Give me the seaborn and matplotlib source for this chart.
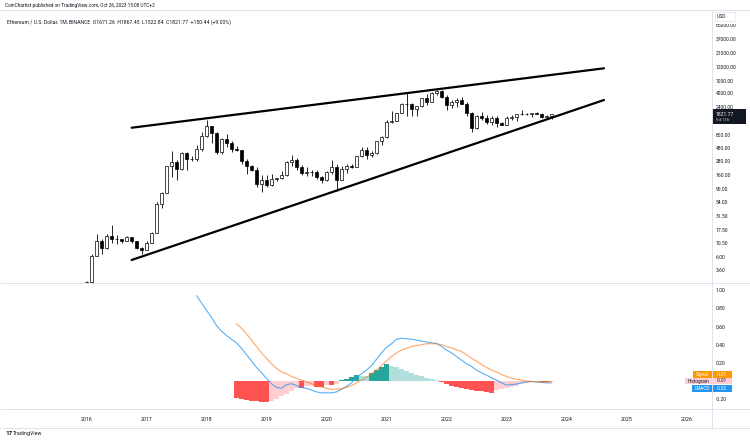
import numpy as np
import pandas as pd
import matplotlib
matplotlib.use("Agg")
import matplotlib.pyplot as plt
from matplotlib.patches import Rectangle
from matplotlib.ticker import NullLocator
import seaborn as sns

# ---------------- data ----------------
months = pd.period_range("2016-01", "2023-10", freq="M")

opens = [0.93, 2.19, 6.40, 11.4, 8.8, 14.0, 12.5, 12.6, 11.5, 13.2, 11.3, 8.6,
         8.0, 10.7, 15.8, 50, 79, 230, 274, 201, 386, 302, 306, 447,
         756, 1118, 856, 396, 670, 577, 455, 433, 283, 232, 197, 113,
         133, 107, 136, 141, 161, 268, 290, 218, 172, 180, 182, 151,
         130, 179, 217, 133, 206, 230, 225, 345, 434, 360, 386, 615,
         737, 1314, 1416, 1918, 2772, 2707, 2275, 2536, 3433, 3001, 4288, 4631,
         3682, 2688, 2919, 3282, 2727, 1942, 1067, 1678, 1553, 1328, 1572, 1295,
         1196, 1585, 1605, 1822, 1869, 1874, 1934, 1856, 1646, 1671.26]
highs = [2.30, 6.70, 15.1, 12.3, 15.0, 21.5, 14.8, 12.6, 14.2, 13.5, 11.6, 8.9,
         11.5, 16.5, 55, 80, 230, 420, 296, 400, 400, 350, 530, 880,
         1420, 1160, 880, 710, 835, 630, 515, 435, 300, 235, 225, 160,
         160, 165, 145, 185, 285, 362, 315, 238, 225, 200, 195, 153,
         185, 288, 253, 227, 247, 253, 349, 488, 490, 420, 623, 750,
         1475, 2040, 1945, 2800, 4380, 2890, 2550, 3470, 4030, 4460, 4868, 4780,
         3900, 3280, 3480, 3580, 2960, 1970, 1785, 2030, 1790, 1665, 1680, 1350,
         1680, 1745, 1860, 2140, 1930, 1930, 2030, 1880, 1750, 1867.45]
lows = [0.92, 2.10, 6.2, 6.9, 8.3, 10.5, 10.3, 10.4, 11.3, 10.5, 8.3, 6.8,
        7.9, 10.4, 15.6, 43, 78, 150, 130, 200, 200, 276, 286, 420,
        740, 570, 366, 366, 500, 410, 425, 250, 167, 190, 100, 81,
        100, 102, 127, 137, 157, 230, 193, 163, 152, 156, 135, 117,
        127, 170, 86, 130, 176, 214, 222, 335, 308, 335, 372, 535,
        715, 1270, 1410, 1900, 1730, 1700, 1720, 2450, 2650, 2970, 3930, 3500,
        2160, 2300, 2450, 2700, 1700, 880, 1000, 1420, 1220, 1190, 1075, 1165,
        1190, 1460, 1370, 1785, 1740, 1625, 1820, 1550, 1530, 1522.84]
closes = [2.19, 6.40, 11.4, 8.8, 14.0, 12.5, 12.6, 11.5, 13.2, 11.3, 8.6, 8.0,
          10.7, 15.8, 50, 79, 230, 274, 201, 386, 302, 306, 447, 756,
          1118, 856, 396, 670, 577, 455, 433, 283, 232, 197, 113, 133,
          107, 136, 141, 161, 268, 290, 218, 172, 180, 182, 151, 130,
          179, 217, 133, 206, 230, 225, 345, 434, 360, 386, 615, 737,
          1314, 1416, 1918, 2772, 2707, 2275, 2536, 3433, 3001, 4288, 4631, 3682,
          2688, 2919, 3282, 2727, 1942, 1067, 1678, 1553, 1328, 1572, 1295, 1196,
          1585, 1605, 1822, 1869, 1874, 1934, 1856, 1646, 1671, 1821.77]

# wedge trend lines (date, price)
wedge_dates = ["2016-10-02", "2024-08-16"]
wedge_upper = [1063, 11430]
wedge_lower = [5.37, 3218]

# MACD indicator (log-price MACD)
lmacd_months = pd.period_range("2017-11", "2023-10", freq="M")
lmacd = [0.94, 0.86, 0.78, 0.70, 0.61, 0.55, 0.50, 0.46,
         0.42, 0.36, 0.29, 0.22, 0.15, 0.09, 0.03,
         -0.03, -0.07, -0.08, -0.04, -0.03, -0.05, -0.07, -0.08, -0.10, -0.12,
         -0.13, -0.13, -0.13, -0.12, -0.09, -0.06,
         -0.02, 0.04, 0.08, 0.12, 0.17, 0.24, 0.31, 0.37, 0.41, 0.46, 0.47,
         0.465, 0.46, 0.45, 0.44, 0.43, 0.42, 0.415, 0.38, 0.34, 0.31, 0.27,
         0.23, 0.19, 0.16, 0.12, 0.09, 0.065, 0.035, 0.01, -0.02, -0.045,
         -0.04, -0.033, -0.02, -0.01, -0.005, -0.01, -0.015, -0.02, -0.02]
signal_months = pd.period_range("2018-07", "2023-10", freq="M")
signal = [0.63, 0.58, 0.52, 0.45, 0.38, 0.31, 0.25, 0.19, 0.14, 0.10,
          0.08, 0.05, 0.03, 0.01, -0.01, -0.03, -0.05, -0.065, -0.08, -0.09,
          -0.09, -0.085, -0.07, -0.05, -0.02, 0.01, 0.04, 0.08, 0.12, 0.17,
          0.22, 0.27, 0.31, 0.34, 0.36, 0.38, 0.39, 0.40, 0.41, 0.41,
          0.41, 0.40, 0.38, 0.365, 0.345, 0.325, 0.29, 0.25, 0.22, 0.18,
          0.15, 0.12, 0.10, 0.07, 0.05, 0.03, 0.02, 0.01, 0.00, -0.005,
          -0.01, -0.01, -0.01, -0.01]
hist = [-0.19, -0.20, -0.21, -0.22, -0.225, -0.23, -0.235,
        -0.215, -0.20, -0.17, -0.14, -0.11, -0.075,
        -0.08, -0.06, -0.05, -0.065, -0.07, -0.04, -0.045, -0.03,
        0.01, 0.02, 0.04, 0.07, 0.06, 0.05, 0.09, 0.12, 0.15, 0.19,
        0.17, 0.15, 0.13, 0.11, 0.09, 0.07, 0.05, 0.035, 0.02, 0.01,
        -0.01, -0.03, -0.05, -0.065, -0.08, -0.09, -0.10, -0.11, -0.115, -0.12, -0.13,
        -0.10, -0.09, -0.08, -0.065, -0.05, -0.035, -0.02, -0.01, -0.005, -0.008, -0.012, -0.01]

price_ticks = [3.6, 6, 10.5, 17.5, 31.5, 54, 90, 160, 280, 480, 800,
               2400, 4200, 7000, 12000, 21000, 37000, 65000]
macd_ticks = [1.0, 0.8, 0.6, 0.4, 0.2, 0.0, -0.2]
year_labels = [str(y) for y in range(2016, 2027)]

# ---------------- helpers ----------------
def midx(periods):
    return np.array([(p.year - 2016) * 12 + p.month - 1 for p in periods], dtype=float)

def date_idx(s):
    t = pd.Timestamp(s)
    return (t.year - 2016) * 12 + t.month - 1 + (t.day - 1) / 30.0

candles = pd.DataFrame({"m": midx(months), "o": opens, "h": highs, "l": lows, "c": closes})
mac = pd.DataFrame({"m": midx(lmacd_months), "v": lmacd})
sig = pd.DataFrame({"m": midx(signal_months), "s": signal, "h": hist})
wedge = pd.DataFrame({"m": [date_idx(d) for d in wedge_dates],
                      "up": wedge_upper, "lo": wedge_lower})

# ---------------- figure ----------------
sns.set_theme(style="white")
plt.rcParams["font.family"] = ["Roboto", "DejaVu Sans"]
TXT = "#131722"
SEP = "#E0E3EB"

W, H = 750, 440
fig = plt.figure(figsize=(7.5, 4.4), dpi=100)
fig.patch.set_facecolor("white")

def fy(py):
    return 1 - py / H

PR = 712
ax_p = fig.add_axes([0, fy(283), PR / W, (283 - 11) / H])
ax_m = fig.add_axes([0, fy(409), PR / W, (409 - 284) / H], sharex=ax_p)
XL = (-17.3, 125.1)

# candles
up = candles["c"] >= candles["o"]
ax_p.vlines(candles["m"], candles["l"], candles["h"], color="black", lw=0.6, zorder=2)
ax_p.bar(candles["m"], (candles["c"] - candles["o"]).abs(),
         bottom=np.minimum(candles["o"], candles["c"]), width=0.62,
         color=np.where(up, "white", "black"), edgecolor="black", linewidth=0.5, zorder=3)

# wedge lines
sns.lineplot(data=wedge, x="m", y="up", color="black", lw=1.6, ax=ax_p, zorder=4)
sns.lineplot(data=wedge, x="m", y="lo", color="black", lw=1.6, ax=ax_p, zorder=4)

ax_p.set_yscale("log")
ax_p.set_ylim(2.14, 113000)
ax_p.set_xlim(*XL)
ax_p.yaxis.tick_right()
ax_p.set_yticks(price_ticks)
ax_p.set_yticklabels([f"{t:.2f}" for t in price_ticks])
ax_p.yaxis.set_minor_locator(NullLocator())
ax_p.tick_params(axis="y", length=0, pad=2.9, labelsize=3.6, colors=TXT)
ax_p.tick_params(axis="x", which="both", length=0, labelbottom=False)
ax_p.set_xlabel("")
ax_p.set_ylabel("")
for s in ax_p.spines.values():
    s.set_visible(False)

# MACD pane
prev = None
cols = []
for v in sig["h"]:
    if v >= 0:
        c = "#26A69A" if (prev is None or v > prev) else "#B2DFDB"
    else:
        c = "#FF5252" if (prev is None or v < prev) else "#FFCDD2"
    cols.append(c)
    prev = v
ax_m.bar(sig["m"], sig["h"], width=0.82, color=cols, linewidth=0, zorder=2)
sns.lineplot(data=mac, x="m", y="v", color="#2196F3", lw=0.8, alpha=0.75, ax=ax_m, zorder=3)
sns.lineplot(data=sig, x="m", y="s", color="#FF6D00", lw=0.8, alpha=0.6, ax=ax_m, zorder=3)
ax_m.set_ylim(-0.308, 1.068)
ax_m.set_xlim(*XL)
ax_m.yaxis.tick_right()
ax_m.set_yticks(macd_ticks)
ax_m.set_yticklabels([f"{t:.2f}" for t in macd_ticks])
ax_m.tick_params(axis="y", length=0, pad=2.9, labelsize=3.6, colors=TXT)
ax_m.set_xticks(np.arange(0, 12 * len(year_labels), 12))
ax_m.set_xticklabels(year_labels)
ax_m.tick_params(axis="x", length=0, pad=6.0, labelsize=3.8, colors=TXT)
ax_m.set_xlabel("")
ax_m.set_ylabel("")
for s in ax_m.spines.values():
    s.set_visible(False)

# ---------------- overlay: separators, labels ----------------
ov = fig.add_axes([0, 0, 1, 1], zorder=10)
ov.set_xlim(0, W)
ov.set_ylim(H, 0)
ov.axis("off")
ov.patch.set_alpha(0)

for yy in (10.5, 283.5, 409.5, 428.5):
    ov.plot([0, W], [yy, yy], color=SEP, lw=0.7)
ov.plot([PR, PR], [10.5, 428.5], color=SEP, lw=0.7)

ov.text(5, 5.5, "CoinChartist published on TradingView.com, Oct 26, 2023 15:08 UTC+2",
        fontsize=3.4, va="center", ha="left", color=TXT)
ov.text(7, 22, "Ethereum / U.S. Dollar, 1M, BINANCE  O1671.26  H1867.45  L1522.84  C1821.77  +150.44 (+9.00%)",
        fontsize=3.7, va="center", ha="left", color=TXT)

# USD label covering top of scale
ov.add_patch(Rectangle((713, 11.5), 36, 12.3, facecolor="white", edgecolor="none"))
ov.add_patch(Rectangle((714.5, 12), 20, 9, facecolor="white", edgecolor=SEP, lw=0.5))
ov.text(716.5, 16.5, "USD", fontsize=3.6, va="center", ha="left", color=TXT)

# current price label
ov.add_patch(Rectangle((712, 109.5), 34, 14.5, facecolor="#131722", edgecolor="none"))
ov.text(715.5, 114, "1821.77", fontsize=3.6, va="center", ha="left", color="white")
ov.text(715.5, 120, "5d 11h", fontsize=3.2, va="center", ha="left", color="#D1D4DC")

# indicator value labels
labels = [("Signal", "-0.01", 693, 374.5, "#FF9800", "white"),
          ("Histogram", "-0.01", 685, 381.0, "#FFCDD2", TXT),
          ("LMACD", "-0.02", 692, 388.5, "#2196F3", "white")]
for name, val, x0, yc, bg, fg in labels:
    ov.add_patch(Rectangle((x0, yc - 3.2), PR - x0, 6.4, facecolor=bg, edgecolor="none"))
    ov.text((x0 + PR) / 2, yc, name, fontsize=3.3, va="center", ha="center", color=fg)
    ov.add_patch(Rectangle((PR, yc - 3.2), 20, 6.4, facecolor=bg, edgecolor="none"))
    ov.text(PR + 10, yc, val, fontsize=3.3, va="center", ha="center", color=fg)

# TradingView logo text
ov.text(5, 433.5, "17", fontsize=4.6, fontweight="bold", va="center", ha="left", color=TXT)
ov.text(13, 433.5, "TradingView", fontsize=3.8, va="center", ha="left", color=TXT)

fig.savefig("out.png", dpi=100, facecolor="white")
